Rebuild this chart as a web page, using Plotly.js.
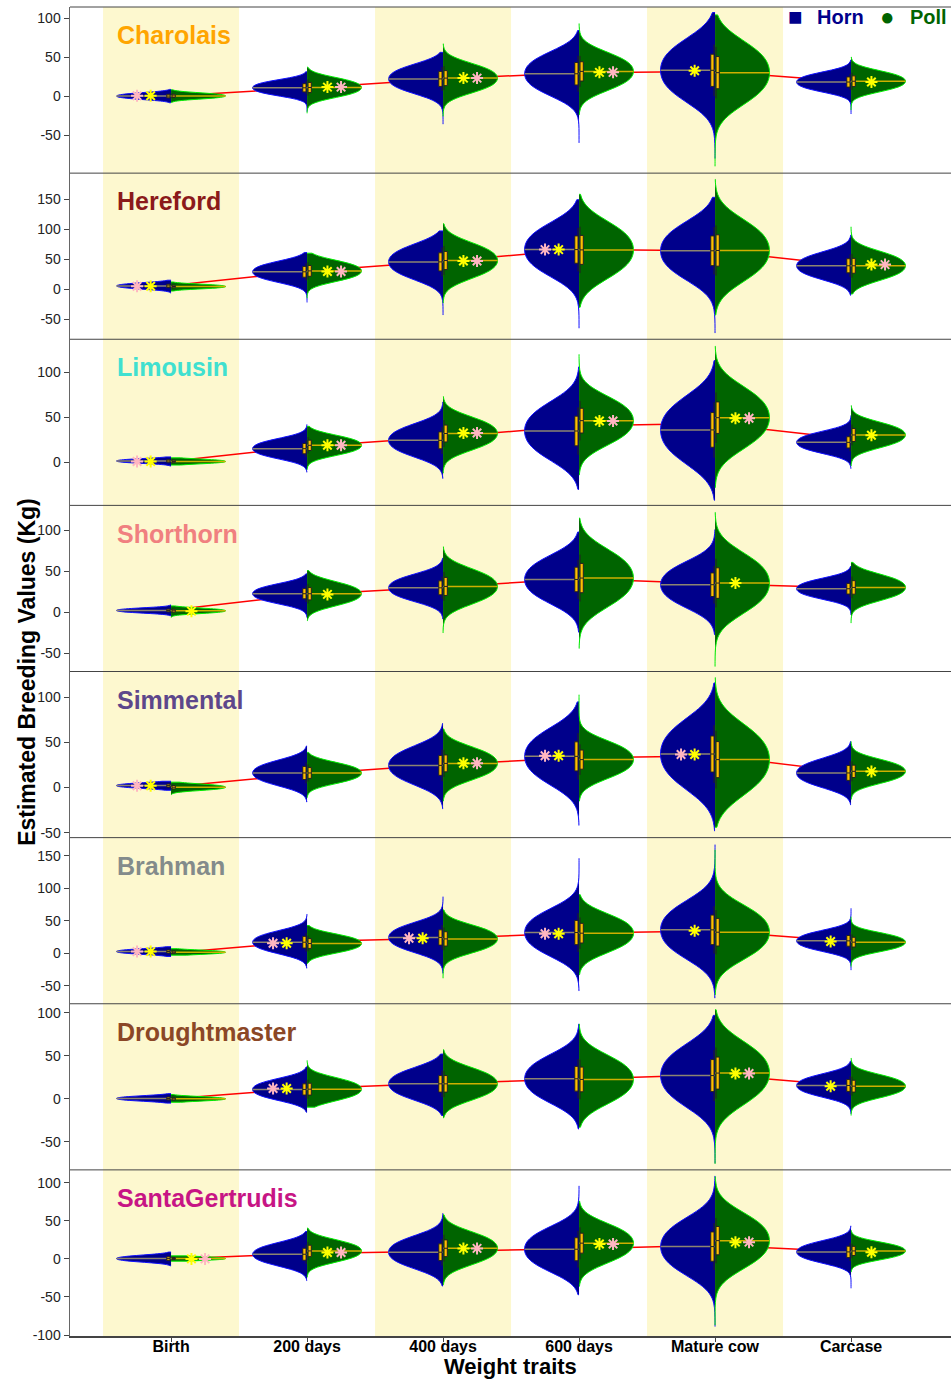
<!DOCTYPE html>
<html><head><meta charset="utf-8">
<script src="https://cdn.plot.ly/plotly-3.0.1.min.js"></script>
<style>html,body{margin:0;padding:0;background:#fff}#chart{width:951px;height:1380px}</style>
</head><body><div id="chart"></div>
<script>
const traits = ['Birth','200 days','400 days','600 days','Mature cow','Carcase'];
const breeds = ['Charolais','Hereford','Limousin','Shorthorn','Simmental','Brahman','Droughtmaster','SantaGertrudis'];
const breedColors = ['#FFA500','#8B1A1A','#40E0D0','#F08080','#5D478B','#838B8B','#8B4726','#C71585'];

// ---- Charolais ----
const charolaisHornValues = [[-3.6,-1.8,0,1.8,3.6],[2.2,6.4,10.6,14.8,19],[6.6,14.3,22,29.7,37.4],[5.6,17.1,28.6,40.1,51.6],[0,16.5,33,49.5,66],[7.6,12.8,18,23.2,28.4]];
const charolaisHornSpan = [[-8.5,8.5],[-20,31],[-36,56],[-60,84],[-80,107],[-23,46]];
const charolaisPollValues = [[-3.1,-1.45,0.2,1.85,3.5],[0.6,5.8,11,16.2,21.4],[7.6,15.3,23,30.7,38.4],[11.8,21.7,31.6,41.5,51.4],[-3,13.5,30,46.5,63],[8,13.5,19,24.5,30]];
const charolaisPollSpan = [[-8,8],[-22,37],[-26,67],[-24,93],[-90,104],[-18,50]];
const charolaisOverall = [0,10.5,22,30,31.5,18.5];
const charolaisStars = [[0,'H','yp',0.4],[1,'P','yp',11.5],[2,'P','yp',23],[3,'P','yp',30.4],[4,'H','y',32.4],[5,'P','y',18]];

// ---- Hereford ----
const herefordHornValues = [[1.1,3.3,5.5,7.7,9.9],[14.6,21.8,29,36.2,43.4],[21.3,33.4,45.5,57.6,69.7],[29.6,47.8,66,84.2,102.4],[24.4,44.2,64,83.8,103.6],[20.2,29.6,39,48.4,57.8]];
const herefordHornSpan = [[-6,15],[-22,61],[-43,97],[-65,149],[-73,153],[-10,90]];
const herefordPollValues = [[1.2,2.85,4.5,6.15,7.8],[16.1,23.3,30.5,37.7,44.9],[23.6,35.7,47.8,59.9,72],[26.9,46.2,65.5,84.8,104.1],[22.7,43.6,64.5,85.4,106.3],[19.2,29.1,39,48.9,58.8]];
const herefordPollSpan = [[-3,12],[-15,60],[-23,109],[-30,158],[-43,183],[-8,104]];
const herefordOverall = [6,30,46.5,66,64,39];
const herefordStars = [[0,'H','yp',5],[1,'P','yp',29.5],[2,'P','yp',47],[3,'H','yp',66],[5,'P','yp',41]];

// ---- Limousin ----
const limousinHornValues = [[-0.7,0.4,1.5,2.6,3.7],[6,10.6,15.2,19.8,24.4],[9.4,16.9,24.4,31.9,39.4],[8.4,21.6,34.8,48,61.2],[5.2,20.6,36,51.4,66.8],[12.2,17.2,22.2,27.2,32.2]];
const limousinHornSpan = [[-4,6],[-11,42],[-18,67],[-30,106],[-42,113],[-7,52]];
const limousinPollValues = [[-1.2,-0.1,1,2.1,3.2],[9.7,14.3,18.9,23.5,28.1],[17,24.5,32,39.5,47],[24.3,35.3,46.3,57.3,68.3],[21.6,35.6,49.6,63.6,77.6],[18.8,24.6,30.4,36.2,42]];
const limousinPollSpan = [[-3,5],[-8,40],[-12,73],[-14,120],[-28,129],[-4,63]];
const limousinOverall = [1.3,17.5,28,40.5,43,26];
const limousinStars = [[0,'H','yp',1],[1,'P','yp',19],[2,'P','yp',32.5],[3,'P','yp',46],[4,'P','yp',49],[5,'P','y',30]];

// ---- Shorthorn ----
const shorthornHornValues = [[-0.2,1.1,2.4,3.7,5],[12.8,17.8,22.8,27.8,32.8],[16.4,23.2,30,36.8,43.6],[16.2,28.2,40.2,52.2,64.2],[10.8,22.3,33.8,45.3,56.8],[18.5,23.7,28.9,34.1,39.3]];
const shorthornHornSpan = [[-4,9],[-6,47],[-8,66],[-24,98],[-27,101],[-3,56]];
const shorthornPollValues = [[-0.8,0.6,2,3.4,4.8],[10.8,16.8,22.8,28.8,34.8],[14.1,22.9,31.7,40.5,49.3],[13.3,27.6,41.9,56.2,70.5],[6,20.9,35.8,50.7,65.6],[17.3,23.9,30.5,37.1,43.7]];
const shorthornPollSpan = [[-6,8],[-10,51],[-25,80],[-44,115],[-66,122],[-13,61]];
const shorthornOverall = [3,22,31,41,35,30];
const shorthornStars = [[0,'P','y',1.6],[1,'P','y',22],[4,'P','y',36]];

// ---- Simmental ----
const simmentalHornValues = [[-0.4,0.9,2.2,3.5,4.8],[4.6,10.4,16.2,22,27.8],[7,15.8,24.6,33.4,42.2],[8.8,21.7,34.6,47.5,60.4],[5.2,21.2,37.2,53.2,69.2],[3,9.6,16.2,22.8,29.4]];
const simmentalHornSpan = [[-3,7],[-16,46],[-23.5,71],[-42,95],[-48,116],[-19,51]];
const simmentalPollValues = [[-2.6,-1.1,0.4,1.9,3.4],[6.6,11.4,16.2,21,25.8],[11.8,19.3,26.8,34.3,41.8],[14,22.5,31,39.5,48],[-1,15,31,47,63],[7,12.5,18,23.5,29]];
const simmentalPollSpan = [[-8,6],[-11,39],[-15,65],[-15,103],[-44,122],[-13,51]];
const simmentalOverall = [1,15,25.5,33,35,17];
const simmentalStars = [[0,'H','yp',2],[2,'P','yp',27],[3,'H','yp',35.3],[4,'H','yp',36.6],[5,'P','y',17.7]];

// ---- Brahman ----
const brahmanHornValues = [[-1,0.8,2.6,4.4,6.2],[2.5,9.7,16.9,24.1,31.3],[5.4,14.8,24.2,33.6,43],[2,16.9,31.8,46.7,61.6],[-0.5,17.7,35.9,54.1,72.3],[5.8,12.4,19,25.6,32.2]];
const brahmanHornSpan = [[-5,10],[-23,60],[-31,87],[-58,146],[-69,167],[-26,69]];
const brahmanPollValues = [[-1.3,0.1,1.5,2.9,4.3],[2.9,8.9,14.9,20.9,26.9],[4.4,13.2,22,30.8,39.6],[6.6,18.7,30.8,42.9,55],[-1.7,15.3,32.3,49.3,66.3],[5,11,17,23,29]];
const brahmanPollSpan = [[-3,7],[-15.4,42.6],[-38.5,66.6],[-33,90],[-64,159],[-20.5,56]];
const brahmanOverall = [0.5,18,23,31,34,18];
const brahmanStars = [[0,'H','yp',2.5],[1,'H','yp',15.4],[2,'H','yp',23],[3,'H','yp',30],[4,'H','y',34.4],[5,'H','y',18]];

// ---- Droughtmaster ----
const droughtmasterHornValues = [[-2.2,-0.9,0.4,1.7,3],[0.5,5.7,10.9,16.1,21.3],[2,9.7,17.4,25.1,32.8],[0.3,11.8,23.3,34.8,46.3],[-2.8,12.1,27,41.9,56.8],[4.5,10,15.5,21,26.5]];
const droughtmasterHornSpan = [[-5,6],[-15.5,37],[-19.4,52],[-35,87],[-75,97],[-17.4,43.8]];
const droughtmasterPollValues = [[-2.2,-1.1,0,1.1,2.2],[0.2,5.7,11.2,16.7,22.2],[2,9.7,17.4,25.1,32.8],[-0.5,11,22.5,34,45.5],[0.1,15,29.9,44.8,59.7],[3.7,9.2,14.7,20.2,25.7]];
const droughtmasterPollSpan = [[-4,5],[-9.7,44.6],[-22,57],[-33,87],[-75.6,103.5],[-19.4,47.3]];
const droughtmasterOverall = [0,12,18,23,28,15];
const droughtmasterStars = [[1,'H','yp',12],[4,'P','yp',29.5],[5,'H','y',14.7]];

// ---- SantaGertrudis ----
const santaHornValues = [[-3.4,-1.5,0.4,2.3,4.2],[-6.5,-0.2,6.1,12.4,18.7],[-8.8,0,8.8,17.6,26.4],[-11.5,0.6,12.7,24.8,36.9],[-14.6,0.8,16.2,31.6,47],[-2.8,3.2,9.2,15.2,21.2]];
const santaHornSpan = [[-9,9],[-28.5,36],[-35.5,60],[-47,96],[-89,109],[-38.6,43.4]];
const santaPollValues = [[-1.7,-0.6,0.5,1.6,2.7],[-1.5,4.5,10.5,16.5,22.5],[-3.6,5.2,14,22.8,31.6],[-0.3,10.2,20.7,31.2,41.7],[-5.8,9.1,24,38.9,53.8],[0.9,5.7,10.5,15.3,20.1]];
const santaPollSpan = [[-3,4],[-24,40.4],[-34,58],[-36,76],[-87,108],[-17,37.3]];
const santaOverall = [0,7,10,13.5,18,9.5];
const santaStars = [[0,'P','yp',0],[1,'P','yp',8.5],[2,'P','yp',13.8],[3,'P','yp',19.5],[4,'P','yp',22],[5,'P','y',8.8]];

// axis settings per panel
const yRanges = [[-98.7,114.1],[-83.3,193.3],[-47.8,136.7],[-72,130.5],[-55.5,128.7],[-77.7,177.7],[-82.6,110.5],[-101.3,117]];
const yTicks = [[-50,0,50,100],[-50,0,50,100,150],[0,50,100],[-50,0,50,100],[-50,0,50,100],[-50,0,50,100,150],[-50,0,50,100],[-100,-50,0,50,100]];

const hornValuesAll = [charolaisHornValues,herefordHornValues,limousinHornValues,shorthornHornValues,simmentalHornValues,brahmanHornValues,droughtmasterHornValues,santaHornValues];
const hornSpanAll = [charolaisHornSpan,herefordHornSpan,limousinHornSpan,shorthornHornSpan,simmentalHornSpan,brahmanHornSpan,droughtmasterHornSpan,santaHornSpan];
const pollValuesAll = [charolaisPollValues,herefordPollValues,limousinPollValues,shorthornPollValues,simmentalPollValues,brahmanPollValues,droughtmasterPollValues,santaPollValues];
const pollSpanAll = [charolaisPollSpan,herefordPollSpan,limousinPollSpan,shorthornPollSpan,simmentalPollSpan,brahmanPollSpan,droughtmasterPollSpan,santaPollSpan];
const overallAll = [charolaisOverall,herefordOverall,limousinOverall,shorthornOverall,simmentalOverall,brahmanOverall,droughtmasterOverall,santaOverall];
const starsAll = [charolaisStars,herefordStars,limousinStars,shorthornStars,simmentalStars,brahmanStars,droughtmasterStars,santaStars];

const FONT = 'Liberation Sans, Arial, Helvetica, sans-serif';
const HORN_FILL = '#00008B', HORN_LINE = '#1010FF';
const POLL_FILL = '#006400', POLL_LINE = '#00EE00';
const BOX_FILL = '#FFC000';
const BAND = '#FDF8CF';

const traces = [];
const shapes = [];
const annotations = [];
const N = breeds.length;
const layout = {
  width: 951, height: 1380,
  margin: {l: 70, r: 0, t: 7, b: 44},
  paper_bgcolor: '#ffffff', plot_bgcolor: 'rgba(0,0,0,0)',
  violinmode: 'overlay', showlegend: false,
  font: {family: FONT, color: '#111'},
  xaxis: {
    domain: [0, 1], anchor: 'y8', type: 'linear', range: [0.257, 6.735],
    tickvals: traits.map((t, i) => i + 1), ticktext: traits,
    tickfont: {family: FONT, size: 16, color: '#000', weight: 'bold'},
    ticks: 'outside', ticklen: 4, tickcolor: '#444', ticklabelstandoff: -9,
    showline: true, linecolor: '#444', linewidth: 1.5,
    showgrid: false, zeroline: false
  },
  shapes: shapes, annotations: annotations
};

// yellow bands
[1, 3, 5].forEach(c => shapes.push({type: 'rect', xref: 'x', yref: 'paper', x0: c - 0.5, x1: c + 0.5, y0: 0, y1: 1, fillcolor: BAND, line: {width: 0}, layer: 'below'}));

for (let k = 0; k < N; k++) {
  const yname = 'y' + (k + 1);
  const yref = k === 0 ? 'y' : yname;
  const axKey = k === 0 ? 'yaxis' : 'yaxis' + (k + 1);
  layout[axKey] = {
    domain: [1 - (k + 1) / N, 1 - k / N], anchor: 'x', range: yRanges[k],
    tickvals: yTicks[k], ticktext: yTicks[k].map(String),
    tickfont: {family: FONT, size: 14, color: '#222'},
    ticks: 'outside', ticklen: 5, tickcolor: '#444',
    showline: true, linecolor: '#666', linewidth: 1.5,
    showgrid: false, zeroline: false
  };
  // panel top border
  shapes.push({type: 'line', xref: 'paper', yref: 'paper', x0: 0, x1: 1, y0: 1 - k / N, y1: 1 - k / N, line: {color: '#444', width: 1}});
  // overall trend line (beneath violins)
  const ov = overallAll[k];
  for (let t = 0; t < traits.length - 1; t++) {
    shapes.push({type: 'line', xref: 'x', yref: yref, x0: t + 1, x1: t + 2, y0: ov[t], y1: ov[t + 1], line: {color: '#FF0000', width: 1.5}, layer: 'below'});
  }
  // violins
  for (let t = 0; t < traits.length; t++) {
    traces.push({type: 'violin', name: 'Horn', x0: t + 1, y: hornValuesAll[k][t], xaxis: 'x', yaxis: yref,
      side: 'negative', width: 0.8, spanmode: 'manual', span: hornSpanAll[k][t], points: false,
      fillcolor: HORN_FILL, line: {color: HORN_LINE, width: 1},
      meanline: {visible: true, color: '#8C8470', width: 1.5}, box: {visible: false}, hoverinfo: 'skip'});
    traces.push({type: 'violin', name: 'Poll', x0: t + 1, y: pollValuesAll[k][t], xaxis: 'x', yaxis: yref,
      side: 'positive', width: 0.8, spanmode: 'manual', span: pollSpanAll[k][t], points: false,
      fillcolor: POLL_FILL, line: {color: POLL_LINE, width: 1},
      meanline: {visible: true, color: '#CDB000', width: 1.5}, box: {visible: false}, hoverinfo: 'skip'});
  }
  // inner boxes (transparent violins carrying only the box)
  for (let t = 0; t < traits.length; t++) {
    [['negative', hornValuesAll[k][t], hornSpanAll[k][t]], ['positive', pollValuesAll[k][t], pollSpanAll[k][t]]].forEach(([side, vals, span]) => {
      traces.push({type: 'violin', x0: t + 1, y: vals, xaxis: 'x', yaxis: yref,
        side: side, width: 0.8, spanmode: 'manual', span: span, points: false,
        fillcolor: 'rgba(0,0,0,0)', line: {color: 'rgba(0,0,0,0)', width: 0},
        meanline: {visible: false},
        box: {visible: true, width: 0.12, fillcolor: BOX_FILL, line: {color: '#222', width: 1}}, hoverinfo: 'skip'});
    });
  }
  // stars
  const sx = [], sy = [], sc = [];
  starsAll[k].forEach(([t, side, kind, y]) => {
    const dir = side === 'H' ? -1 : 1;
    sx.push(t + 1 + dir * 0.15); sy.push(y); sc.push('#FFFF00');
    if (kind === 'yp') { sx.push(t + 1 + dir * 0.25); sy.push(y); sc.push('#FFB6C1'); }
  });
  traces.push({type: 'scatter', mode: 'markers', x: sx, y: sy, xaxis: 'x', yaxis: yref,
    marker: {symbol: 'asterisk-open', size: 10, color: sc, line: {color: sc, width: 2}}, hoverinfo: 'skip'});
  // breed label
  annotations.push({text: breeds[k], xref: 'x', x: 0.585, xanchor: 'left', yref: yref + ' domain', y: 0.83, yanchor: 'middle',
    showarrow: false, font: {family: FONT, size: 25, color: breedColors[k], weight: 'bold'}});
}

// axis titles
annotations.push({text: 'Estimated Breeding Values (Kg)', xref: 'paper', yref: 'paper', x: -0.049, y: 0.4996, textangle: -90,
  xanchor: 'center', yanchor: 'middle', showarrow: false, font: {family: FONT, size: 23, color: '#000', weight: 'bold'}});
annotations.push({text: 'Weight traits', xref: 'paper', yref: 'paper', x: 0.5, y: -0.0233, xanchor: 'center', yanchor: 'middle',
  showarrow: false, font: {family: FONT, size: 22, color: '#000', weight: 'bold'}});

// legend (Horn / Poll keys)
const legendItems = [
  {sym: '■', label: 'Horn', color: '#00008B', symX: 0.823, textX: 0.8456},
  {sym: '●', label: 'Poll', color: '#006400', symX: 0.9274, textX: 0.9512}
];
legendItems.forEach(it => {
  annotations.push({text: it.sym, xref: 'paper', yref: 'paper', x: it.symX, y: 0.9925, xanchor: 'center', yanchor: 'middle',
    showarrow: false, font: {family: FONT, size: 24, color: it.color}});
  annotations.push({text: it.label, xref: 'paper', yref: 'paper', x: it.textX, y: 0.9925, xanchor: 'left', yanchor: 'middle',
    showarrow: false, font: {family: FONT, size: 20, color: it.color, weight: 'bold'}});
});

Plotly.newPlot('chart', traces, layout, {staticPlot: true, displayModeBar: false}).then(() => {
  document.querySelectorAll('path.meanline').forEach(el => { el.style.strokeDasharray = 'none'; });
});
</script>
</body></html>
